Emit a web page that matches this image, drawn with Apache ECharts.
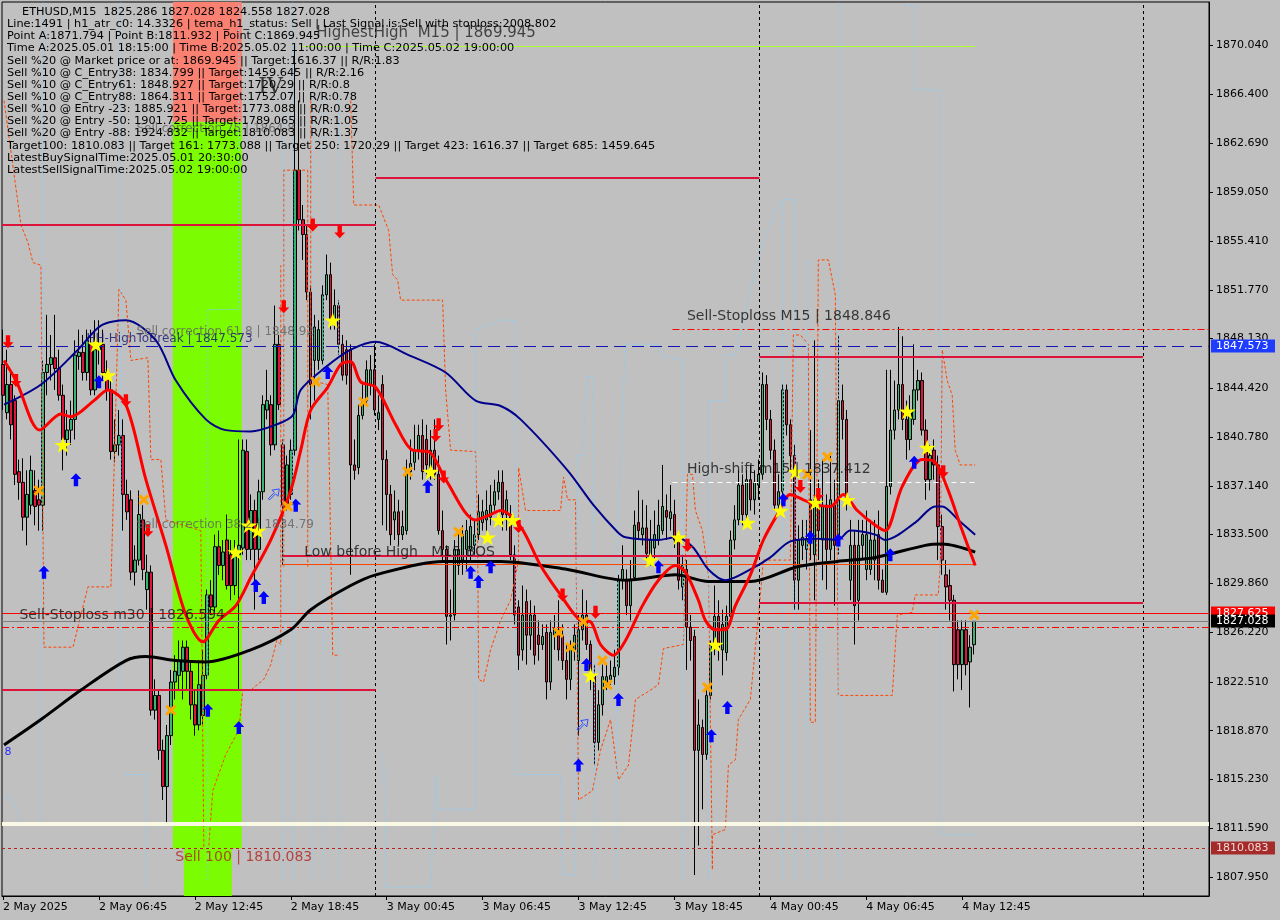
<!DOCTYPE html>
<html>
<head>
<meta charset="utf-8">
<script src="https://cdn.jsdelivr.net/npm/echarts@6.0.0/dist/echarts.min.js"></script>
<style>
html,body{margin:0;padding:0;background:#C0C0C0;overflow:hidden}
#chart{width:1280px;height:920px}
</style>
</head>
<body>
<div id="chart"></div>
<script>
// ---------- DATA ----------
// candles: [open, close, low, high], index = M15 bar number starting 2 May 00:45
const candles = [
[1846.2,1843.9,1842.8,1848.8],[1842.6,1844.7,1842.1,1847.3],[1844.7,1841.7,1840.6,1845.8],[1843.5,1838.0,1837.2,1843.9],
[1838.2,1837.4,1836.1,1839.1],[1837.4,1834.8,1833.8,1839.2],[1834.8,1836.5,1832.7,1838.3],[1835.7,1838.3,1835.0,1839.4],
[1836.8,1835.6,1834.2,1838.3],[1836.1,1835.7,1833.8,1837.6],[1835.7,1845.6,1833.8,1846.5],[1845.6,1846.2,1843.9,1849.9],
[1846.2,1846.7,1845.0,1848.4],[1846.7,1845.9,1844.3,1849.9],[1845.9,1843.9,1843.5,1847.3],[1843.9,1840.6,1838.3,1844.7],
[1840.6,1841.3,1839.4,1842.8],[1841.3,1842.1,1840.2,1843.5],[1842.1,1846.9,1840.6,1848.0],[1846.8,1847.1,1845.8,1848.8],
[1847.1,1845.6,1845.0,1848.4],[1845.6,1848.0,1845.0,1848.8],[1847.7,1844.3,1843.9,1848.8],[1844.3,1847.3,1843.9,1849.5],
[1847.3,1847.7,1846.2,1849.5],[1847.7,1845.6,1845.0,1848.8],[1845.6,1844.3,1843.5,1846.5],[1844.3,1839.7,1839.1,1845.0],
[1839.7,1840.2,1838.9,1842.1],[1840.2,1840.9,1839.4,1842.8],[1840.9,1836.5,1833.8,1842.1],[1836.5,1835.2,1834.6,1837.6],
[1836.1,1830.7,1830.1,1836.8],[1830.7,1831.6,1829.7,1832.7],[1831.6,1835.0,1831.2,1836.8],[1834.6,1830.9,1830.1,1835.7],
[1829.4,1830.7,1827.9,1832.0],[1830.7,1820.4,1820.0,1831.2],[1820.4,1821.5,1819.7,1822.7],[1821.5,1817.4,1816.7,1821.9],
[1817.4,1814.7,1813.7,1818.2],[1814.7,1818.5,1811.932,1819.3],[1818.5,1822.5,1817.8,1823.4],[1822.5,1823.3,1821.2,1824.5],
[1823.0,1824.1,1821.9,1825.6],[1823.3,1825.1,1821.2,1825.6],[1825.1,1823.3,1821.9,1825.6],[1823.3,1820.8,1819.7,1824.1],
[1820.8,1819.3,1818.5,1821.9],[1819.3,1822.3,1818.9,1824.1],[1820.0,1823.0,1819.3,1824.9],[1823.0,1829.0,1822.7,1829.4],
[1829.0,1828.1,1827.5,1830.1],[1828.1,1832.6,1827.7,1833.5],[1832.6,1831.2,1830.5,1833.8],[1831.2,1832.2,1830.1,1833.1],
[1833.1,1829.7,1829.4,1835.0],[1832.0,1829.7,1828.6,1833.1],[1829.7,1832.2,1829.0,1833.1],[1832.0,1832.7,1821.9,1840.6],
[1832.5,1839.8,1832.0,1840.6],[1839.7,1832.4,1831.6,1840.6],[1832.4,1835.3,1831.6,1836.5],[1835.3,1832.4,1827.9,1836.1],
[1832.4,1836.7,1831.6,1837.6],[1836.7,1843.2,1836.1,1843.9],[1842.8,1843.5,1842.1,1845.8],[1843.2,1840.2,1839.4,1843.9],
[1840.2,1847.7,1839.8,1850.6],[1847.7,1843.2,1842.8,1848.4],[1840.2,1835.7,1831.2,1840.6],[1835.7,1838.7,1835.3,1839.4],
[1836.5,1839.8,1836.1,1840.6],[1839.8,1860.7,1839.4,1869.945],[1860.7,1857.0,1856.2,1865.9],[1857.0,1855.9,1854.0,1858.1],
[1855.9,1851.6,1851.0,1856.6],[1851.6,1844.7,1842.1,1852.1],[1846.5,1849.0,1843.5,1849.9],[1846.5,1848.8,1845.8,1849.5],
[1846.5,1851.4,1846.2,1852.1],[1851.4,1852.9,1851.0,1854.4],[1852.9,1849.5,1848.8,1853.8],[1849.5,1850.6,1848.8,1851.8],
[1850.6,1847.7,1846.9,1851.0],[1847.7,1845.4,1845.0,1848.4],[1847.3,1845.4,1844.7,1848.0],[1847.3,1838.7,1830.5,1847.7],
[1838.7,1838.3,1837.6,1840.6],[1838.5,1842.4,1838.0,1843.2],[1842.4,1843.5,1842.1,1844.7],[1843.5,1845.8,1843.2,1846.5],
[1844.7,1845.8,1843.9,1846.9],[1845.8,1842.8,1842.4,1847.7],[1842.1,1842.6,1841.3,1843.9],[1844.7,1839.1,1834.2,1845.4],
[1839.1,1836.5,1833.8,1839.8],[1836.5,1833.5,1832.7,1837.2],[1834.6,1835.2,1833.1,1836.8],[1835.2,1833.5,1832.7,1836.1],
[1833.5,1834.1,1833.1,1835.3],[1833.8,1838.3,1833.5,1839.1],[1838.2,1838.8,1837.6,1840.6],[1838.9,1839.8,1838.3,1841.7],
[1839.8,1840.9,1839.1,1841.7],[1840.9,1838.2,1837.6,1842.1],[1840.6,1838.7,1838.0,1841.7],[1838.3,1839.8,1837.6,1841.3],
[1839.8,1838.0,1837.6,1842.1],[1838.0,1833.8,1833.5,1839.4],[1833.8,1832.4,1831.6,1835.3],[1832.4,1827.4,1825.3,1832.7],
[1827.4,1827.5,1825.6,1829.4],[1827.5,1832.4,1827.1,1833.1],[1831.2,1832.4,1830.5,1833.8],[1831.6,1833.5,1830.5,1834.2],
[1832.4,1833.8,1830.9,1834.6],[1832.4,1834.1,1831.6,1835.0],[1832.7,1833.5,1832.0,1834.6],[1833.5,1835.2,1833.1,1836.5],
[1834.4,1835.2,1833.8,1836.1],[1834.6,1835.3,1833.8,1836.8],[1834.8,1835.7,1834.2,1837.2],[1835.7,1836.7,1835.3,1837.6],
[1836.7,1837.4,1836.1,1838.3],[1837.4,1835.0,1833.8,1838.3],[1835.0,1836.1,1833.8,1836.8],[1835.0,1832.0,1831.6,1835.7],
[1832.0,1827.5,1826.8,1832.7],[1828.1,1824.5,1823.4,1828.6],[1824.9,1827.5,1824.1,1829.7],[1828.5,1826.0,1823.8,1829.4],
[1826.0,1827.5,1824.9,1828.6],[1827.5,1824.5,1823.8,1828.2],[1826.0,1825.3,1824.1,1827.1],[1825.3,1825.9,1824.9,1826.8],
[1826.2,1822.5,1821.2,1826.8],[1822.5,1826.2,1821.9,1827.1],[1826.0,1826.5,1824.9,1827.5],[1826.4,1824.9,1824.1,1828.6],
[1826.0,1824.1,1823.4,1826.8],[1824.1,1822.7,1821.2,1825.3],[1822.7,1825.1,1821.9,1825.6],[1824.9,1826.0,1824.1,1826.8],
[1824.1,1826.4,1818.5,1827.5],[1826.4,1827.5,1825.6,1829.4],[1827.5,1825.3,1824.9,1828.6],[1825.3,1823.0,1821.9,1825.6],
[1823.0,1818.0,1816.3,1823.8],[1818.0,1820.8,1817.4,1821.9],[1820.8,1822.9,1820.0,1823.8],[1822.3,1822.9,1821.9,1823.8],
[1822.7,1823.0,1822.3,1824.1],[1822.9,1823.6,1822.3,1824.9],[1823.6,1830.1,1823.0,1830.5],[1830.1,1830.9,1829.4,1832.7],
[1830.1,1828.2,1827.5,1830.9],[1828.2,1830.1,1827.1,1831.6],[1830.3,1834.2,1830.1,1835.3],[1834.4,1833.8,1833.1,1836.8],
[1833.5,1834.0,1832.7,1836.1],[1834.0,1832.1,1831.6,1835.7],[1832.0,1833.1,1831.2,1834.6],[1832.5,1833.5,1831.6,1835.3],
[1833.1,1834.2,1832.7,1836.1],[1833.8,1835.6,1833.5,1838.7],[1835.3,1834.8,1833.1,1836.5],[1834.7,1835.2,1833.8,1837.2],
[1835.0,1833.1,1832.5,1836.1],[1833.1,1830.1,1829.4,1833.8],[1829.6,1831.2,1828.6,1832.0],[1830.9,1826.6,1823.4,1831.6],
[1826.6,1825.6,1824.1,1827.5],[1825.9,1817.4,1808.1,1826.4],[1817.4,1819.3,1810.3,1821.2],[1819.1,1817.1,1813.0,1819.7],
[1817.1,1821.5,1816.7,1821.9],[1821.5,1825.3,1821.2,1825.6],[1825.3,1827.4,1824.5,1829.7],[1827.4,1825.1,1824.1,1828.6],
[1824.9,1826.8,1823.0,1827.9],[1824.7,1827.4,1824.1,1828.2],[1827.4,1833.1,1826.8,1833.8],[1833.1,1834.6,1832.4,1835.7],
[1834.6,1837.2,1834.2,1838.3],[1837.2,1835.0,1834.2,1838.0],[1835.0,1837.6,1834.6,1838.3],[1837.6,1836.1,1835.3,1838.7],
[1836.1,1837.4,1835.0,1838.3],[1837.2,1838.0,1836.1,1839.1],[1838.0,1844.7,1837.6,1845.6],[1844.7,1842.1,1841.3,1845.4],
[1842.1,1839.8,1839.1,1842.8],[1839.8,1835.7,1835.3,1840.6],[1835.7,1836.7,1835.0,1838.0],[1836.7,1844.3,1836.1,1844.7],
[1844.3,1841.7,1840.9,1844.7],[1841.7,1839.4,1838.3,1842.1],[1839.4,1830.1,1827.9,1840.2],[1830.1,1833.1,1827.9,1834.2],
[1832.7,1833.3,1831.6,1834.6],[1832.4,1833.1,1830.9,1834.6],[1836.1,1833.1,1831.6,1841.3],[1832.0,1836.1,1828.6,1848.0],
[1836.1,1833.8,1831.6,1837.6],[1833.1,1835.7,1830.1,1839.1],[1835.7,1832.4,1829.4,1836.5],[1832.4,1836.1,1831.6,1839.4],
[1835.7,1832.7,1828.2,1837.6],[1832.7,1843.5,1832.0,1848.4],[1843.5,1842.1,1840.6,1844.7],[1842.1,1836.1,1835.3,1842.8],
[1830.1,1832.7,1828.6,1834.6],[1832.7,1828.2,1825.3,1833.8],[1828.6,1832.7,1827.1,1834.6],[1832.7,1833.5,1831.6,1834.6],
[1830.9,1833.5,1830.1,1835.3],[1830.9,1833.1,1830.5,1834.6],[1831.6,1833.1,1830.1,1834.6],[1833.5,1830.1,1829.4,1835.3],
[1830.1,1829.2,1829.2,1830.9],[1829.2,1837.1,1829.0,1845.8],[1837.1,1841.3,1836.5,1845.8],[1841.3,1842.8,1840.6,1845.0],
[1842.8,1844.7,1842.1,1849.0],[1844.7,1842.1,1841.3,1848.3],[1842.1,1840.6,1839.1,1843.5],[1840.6,1842.8,1839.8,1843.9],
[1842.1,1844.3,1841.7,1847.7],[1844.3,1845.0,1843.5,1845.8],[1845.0,1841.3,1840.9,1845.6],[1841.3,1837.6,1836.1,1842.1],
[1837.6,1839.4,1836.8,1840.2],[1839.8,1838.7,1837.6,1840.6],[1838.7,1834.1,1831.6,1839.4],[1834.1,1831.6,1830.5,1835.0],
[1830.5,1829.6,1827.9,1831.6],[1829.7,1828.6,1827.1,1830.9],[1828.6,1823.8,1821.8,1829.0],[1826.4,1823.8,1822.7,1827.1],
[1823.8,1826.4,1821.9,1827.1],[1826.4,1823.8,1823.0,1827.1],[1824.0,1825.1,1820.6,1826.0],[1825.286,1827.028,1824.558,1827.028]
];

const xTickBars = [0,24,48,72,96,120,144,168,192,216,240];
const xTickLabels = ['2 May 2025','2 May 06:45','2 May 12:45','2 May 18:45','3 May 00:45','3 May 06:45','3 May 12:45','3 May 18:45','4 May 00:45','4 May 06:45','4 May 12:45'];
const yTickValues = [1870.040,1866.400,1862.690,1859.050,1855.410,1851.770,1848.130,1844.420,1840.780,1837.140,1833.500,1829.860,1826.220,1822.510,1818.870,1815.230,1811.590,1807.950];

// moving averages [bar, price]
const redMA = [[0.25,1846.5],[3.25,1845.0],[9.25,1841.3],[14.5,1842.5],[17,1842.3],[22.75,1843.5],[26.25,1844.3],[30.75,1843.2],[35.75,1837.6],[40.75,1832.7],[45.75,1827.5],[50,1825.5],[54,1827.1],[58.25,1828.2],[62,1830.3],[67,1833.1],[72,1836.8],[74.5,1839.8],[77,1842.8],[81.25,1844.5],[84.5,1846.2],[87,1846.4],[89.5,1844.9],[93.25,1844.5],[98.25,1841.7],[102.5,1839.8],[106.5,1839.7],[110.75,1837.6],[118.25,1834.6],[122,1835.0],[124.5,1835.3],[129.5,1834.1],[134.5,1831.2],[139.5,1829.0],[144.5,1827.1],[147,1827.0],[149.5,1825.3],[152.75,1824.5],[155.75,1825.6],[160,1828.2],[164,1830.1],[168.25,1831.2],[170.75,1830.7],[174,1828.6],[175.75,1827.1],[178.25,1826.4],[180.75,1826.4],[183.25,1828.2],[187,1830.5],[190.25,1833.1],[193.75,1835.0],[197,1836.5],[200.25,1836.1],[203.75,1835.7],[207,1835.6],[210.25,1836.5],[213.75,1835.3],[218.25,1834.2],[220.75,1833.8],[225,1837.1],[230,1839.1],[233.25,1838.9],[236.5,1836.8],[240,1833.8],[243.25,1831.2]];
const navyMA = [[0.25,1843.2],[9.5,1844.7],[18.75,1847.3],[24.5,1849.1],[30.75,1849.5],[38.25,1848.0],[43.25,1845.0],[50.75,1842.1],[55.75,1841.3],[62,1841.2],[68.25,1841.7],[72.5,1842.4],[74.5,1844.3],[80.75,1846.0],[87,1847.3],[93.25,1847.9],[101.5,1846.9],[110.75,1845.6],[118.25,1843.5],[124.5,1843.1],[129.5,1842.1],[141.25,1838.3],[147.75,1835.7],[153.75,1833.7],[155.75,1833.3],[164,1833.1],[168.25,1833.3],[172.5,1832.6],[176.5,1830.9],[180.75,1830.1],[187,1830.9],[192,1831.8],[197,1833.0],[203.75,1833.2],[208.75,1833.1],[212,1833.8],[218.25,1833.5],[220.75,1833.1],[228.25,1834.4],[233.25,1835.6],[235,1835.6],[239,1834.6],[243.25,1833.5]];
const blackMA = [[0.25,1817.8],[9.5,1819.7],[19.5,1821.9],[30.75,1824.1],[35.75,1824.4],[43.25,1824.1],[50.75,1824.0],[62,1824.9],[72,1826.4],[77,1827.9],[87,1829.7],[93.25,1830.5],[110,1831.5],[124.5,1831.5],[141.25,1830.9],[155.75,1830.1],[168.25,1830.5],[176.5,1830.0],[187,1830.0],[198.75,1831.1],[208.75,1831.5],[218.25,1831.8],[230.75,1832.7],[235,1832.8],[243.25,1832.2]];

// step channels (dotted) [bar, price]
const orangePaths = [
[[0.25,1865.9],[4.5,1856.6],[6.25,1855.3],[7.5,1853.8],[9.5,1853.6],[10.25,1825.1],[17.5,1825.1],[21.25,1829.6],[27,1829.6],[29,1851.8],[30.75,1851.0],[32,1846.5],[36.25,1846.7],[37,1839.1],[39.5,1839.1],[40.75,1834.6],[49.5,1833.8],[50.25,1810.0]],
[[51.5,1810.3],[52.5,1814.4],[55.75,1817.1],[59,1818.9],[60,1821.9],[62,1821.9],[65.25,1822.7],[67,1823.8],[68.5,1825.6],[69.5,1825.3],[69.5,1853.6]],
[[70.25,1831.1],[70.25,1860.7],[76.25,1860.7],[76.25,1831.1]],
[[77,1865.9],[77,1845.0],[81.25,1844.7],[82.5,1824.5],[83.75,1824.5]],
[[87,1865.9],[87.75,1858.1],[94,1858.1],[96.5,1856.2],[97.5,1852.9],[98.75,1852.5],[99.5,1851.0],[110,1851.0],[110.75,1844.3],[112,1839.8],[118.25,1839.7],[118.75,1833.8],[119,1822.7],[120.25,1822.5],[122,1824.9],[124.5,1827.1],[127,1828.6],[129,1831.6],[129,1838.5],[130.75,1835.3],[139.5,1835.3],[140.25,1837.8],[141.25,1836.1],[143.25,1836.1],[144,1813.7],[147.5,1814.4],[149.5,1817.4],[152,1819.7],[154,1815.2],[156.5,1816.3],[158.25,1821.2],[161.5,1821.8],[164,1822.3],[165.25,1825.0],[170.25,1825.3],[171.25,1838.0],[172.5,1838.0],[173.25,1835.3],[175,1833.8],[176.5,1830.5],[177.5,1808.5],[177.5,1811.1],[180.75,1811.5],[181.5,1816.3],[183.25,1816.7],[184,1819.7],[187,1821.2],[189.5,1829.0],[190.25,1831.6],[197,1831.6],[197.75,1848.4],[199.5,1848.4],[201.5,1847.7],[202,1819.5],[203.25,1819.5],[204,1854.0],[206.5,1854.0],[208.25,1851.4],[209,1821.5],[222.5,1821.5],[223.75,1827.5],[227.5,1827.7],[228.25,1829.0],[234,1829.0],[234.5,1831.2],[235,1847.3],[236.25,1845.0],[237.5,1843.9],[238.25,1839.8],[239.5,1838.7],[243.25,1838.7]]
];
const bluePaths = [
[[0.25,1813.7],[1.5,1814.1],[2.75,1813.3],[4.5,1812.0],[9.5,1812.0],[10,1873.2]],
[[29.5,1873.2],[29.5,1821.9]],
[[30.75,1815.6],[35.75,1815.6],[35.75,1807.4]],
[[51.25,1807.7],[51.25,1850.3],[59,1850.3],[59,1873.2]],
[[70,1865.9],[70,1807.7]],
[[72.5,1873.2],[72.5,1807.7]],
[[77.5,1865.9],[77.5,1807.7]],
[[80.25,1865.9],[80.25,1807.7]],
[[84,1865.9],[84,1807.7]],
[[95.25,1817.1],[95.75,1807.2],[107,1807.2],[108.25,1815.6],[109,1813.0],[118.25,1813.0],[118.25,1848.8],[124.5,1849.5],[128.25,1849.5],[128.25,1815.6],[139.5,1815.6],[140,1808.1],[143.25,1808.1],[143.75,1839.4],[145,1839.4],[146.25,1845.3],[147.5,1845.3],[148.25,1807.7]],
[[153.75,1807.7],[153.75,1833.5],[155.75,1847.7],[164,1847.7],[164.5,1846.9],[170.25,1846.5],[170.25,1807.7]],
[[176.5,1807.7],[176.5,1843.5],[180.75,1843.5],[180.75,1846.9],[183.25,1846.9],[187,1851.8],[189.5,1854.7],[193.25,1857.7],[195.25,1858.5],[198.25,1858.5],[198.25,1807.7]],
[[195.25,1807.7],[195.25,1858.5]],
[[201.25,1807.7],[201.25,1854.0]],
[[204.5,1807.7],[204.5,1848.0]],
[[209,1807.7],[209,1873.2]],
[[225.75,1873.0],[228.25,1873.0],[228.25,1866.7],[234.5,1866.7],[234.5,1811.1],[243.25,1811.1]]
];

// signal markers [bar, price]
const sellArrows = [[1.25,1847.9],[3.25,1845.0],[30.75,1843.5],[36.25,1833.8],[70.25,1850.5],[77.5,1856.6],[84.25,1856.1],[109,1841.7],[108.25,1840.9],[110.25,1837.8],[129,1834.1],[140,1829.0],[148.25,1827.7],[171.25,1832.7],[199.5,1837.1],[204,1836.5],[235.25,1838.2]];
const buyArrows = [[10.25,1830.7],[18.25,1837.6],[24,1844.9],[51.25,1820.4],[59,1819.1],[63.25,1829.7],[65.25,1828.8],[73.25,1835.7],[81.25,1845.6],[106.25,1837.1],[117,1830.7],[119,1830.0],[122,1831.1],[144,1816.3],[146,1823.8],[154,1821.2],[164,1831.1],[177.25,1818.5],[181.25,1820.6],[195.25,1836.1],[202,1833.3],[209,1833.1],[222,1832.0],[228,1838.9]];
const stars = [[23.25,1847.7],[26.25,1845.4],[15,1840.2],[58.25,1832.2],[61.5,1834.2],[63.75,1833.8],[82.5,1849.5],[107,1838.2],[121.25,1833.3],[124,1834.6],[127.5,1834.6],[147,1823.0],[162,1831.6],[169,1833.3],[178.25,1825.3],[186.25,1834.4],[194.5,1835.3],[198.25,1838.2],[203.25,1835.9],[211.25,1836.1],[226.25,1842.7],[231.25,1840.0]];
const crosses = [[9,1836.8],[35.25,1836.1],[42,1820.4],[71.25,1835.6],[78.25,1844.9],[90.25,1843.4],[101.25,1838.2],[114,1833.7],[139,1826.2],[142,1825.1],[145.25,1827.0],[150,1824.1],[151.25,1822.3],[176.25,1822.1],[201.25,1838.0],[206.25,1839.3],[243,1827.5]];
const hollowArrows = [[67.75,1836.5],[145,1819.3]];

// price levels
const redSegments = [[-0.25,93.25,1856.607],[93.25,189.25,1860.115],[189.25,285.25,1846.756],[189.25,285.25,1828.398],[-0.25,93.25,1821.906],[70,189.25,1831.906]];
const bosSegment = [70,243.25,1831.31];
const highestHighSegment = [74.5,243.25,1869.945];
const sellStopM15Segment = [167.5,301.75,1848.846];
const highShiftSegment = [167.5,243.25,1837.412];
const priceHHBreak = 1847.573;
const priceAsk = 1827.625;
const priceLast = 1827.028;
const priceSellStopM30 = 1826.594;
const pricePointB = 1811.932;
const priceTarget100 = 1810.083;
const priceCEntry88 = 1864.311;
const daySeparators = [93.25,189.25,285.25];
const signalBand = [42.5,59.75];
const signalBandNarrow = [45.25,57.25];

// on-chart texts
const annotText = ['HighestHigh  M15 | 1869.945','Sell-Stoploss M15 | 1848.846','High-shift m15 | 1837.412','Low before High   M15 BOS','Sell-Stoploss m30 | 1826.594','Sell 100 | 1810.083','HH-HighToBreak | 1847.573','Sell correction 61.8 | 1848.92','Sell correction 38.2 | 1834.79','Sell correction 75 | 1864.8','IV','8'];
const annotPos = [[78.25,1870.9],[171,1849.8],[171,1838.4],[75.25,1832.2],[4,1827.5],[43,1809.4],[20.75,1848.1],[33.25,1848.6],[33.25,1834.2],[33.25,1863.8],[63.75,1866.9],[0.25,1817.3]];

const infoLines = [
'ETHUSD,M15  1825.286 1827.028 1824.558 1827.028',
'Line:1491 | h1_atr_c0: 14.3326 | tema_h1_status: Sell | Last Signal is:Sell with stoploss:2008.802',
'Point A:1871.794 | Point B:1811.932 | Point C:1869.945',
'Time A:2025.05.01 18:15:00 | Time B:2025.05.02 11:00:00 | Time C:2025.05.02 19:00:00',
'Sell %20 @ Market price or at: 1869.945 || Target:1616.37 || R/R:1.83',
'Sell %10 @ C_Entry38: 1834.799 || Target:1459.645 || R/R:2.16',
'Sell %10 @ C_Entry61: 1848.927 || Target:1720.29 || R/R:0.8',
'Sell %10 @ C_Entry88: 1864.311 || Target:1752.07 || R/R:0.78',
'Sell %10 @ Entry -23: 1885.921 || Target:1773.088 || R/R:0.92',
'Sell %20 @ Entry -50: 1901.725 || Target:1789.065 || R/R:1.05',
'Sell %20 @ Entry -88: 1924.832 || Target:1810.083 || R/R:1.37',
'Target100: 1810.083 || Target 161: 1773.088 || Target 250: 1720.29 || Target 423: 1616.37 || Target 685: 1459.645',
'LatestBuySignalTime:2025.05.01 20:30:00',
'LatestSellSignalTime:2025.05.02 19:00:00'
];

// ---------- CHART ----------
const FONT = 'DejaVu Sans';
const X0 = -0.25, X1 = 301.75, Y0 = 1806.532, Y1 = 1873.249;
const chart = echarts.init(document.getElementById('chart'), null, {width:1280, height:920});

const annotStyles = [
  {fontSize:15,color:'#222'},{fontSize:14,color:'#111'},{fontSize:14,color:'#111'},{fontSize:14,color:'#111'},
  {fontSize:14,color:'#111'},{fontSize:14,color:'#B22222'},{fontSize:12,color:'#101070'},{fontSize:12,color:'#606060'},
  {fontSize:12,color:'#606060'},{fontSize:12,color:'#606060'},{fontSize:22,color:'#111',fontFamily:'DejaVu Serif'},{fontSize:11,color:'#0000FF'}
];

const seg = (s, style) => [{coord:[s[0], s[2]], lineStyle:style}, {coord:[s[1], s[2]]}];
const crimson = {color:'#DC143C', width:2, type:'solid'};

const series = [];
// bands
series.push({
  type:'line', data:[], z:1, silent:true,
  markArea:{silent:true, data:[
    [{coord:[signalBand[0], priceTarget100], itemStyle:{color:'#7CFC00', opacity:1}}, {coord:[signalBand[1], priceCEntry88]}],
    [{coord:[signalBand[0], priceCEntry88], itemStyle:{color:'#FA8072', opacity:1}}, {coord:[signalBand[1], Y1]}],
    [{coord:[signalBandNarrow[0], Y0], itemStyle:{color:'#7CFC00', opacity:1}}, {coord:[signalBandNarrow[1], priceTarget100]}]
  ]}
});
// candles
series.push({
  type:'candlestick', z:2, barWidth:3, silent:true,
  data: candles.map((c,i)=>[i, c[0], c[1], c[2], c[3]]),
  itemStyle:{color:'#3CB371', color0:'#DC143C', borderColor:'#000', borderColor0:'#000', borderWidth:1}
});
// channels
orangePaths.forEach(p => series.push({type:'line', data:p, z:3, symbol:'none', silent:true,
  lineStyle:{color:'#FF4500', width:1, type:[3,2]}}));
bluePaths.forEach(p => series.push({type:'line', data:p, z:3, symbol:'none', silent:true,
  lineStyle:{color:'#87CEFA', width:1, type:[2,2]}}));
// levels
series.push({
  type:'line', data:[], z:4, silent:true,
  markLine:{symbol:['none','none'], silent:true, label:{show:false}, animation:false, data:[
    ...daySeparators.map(v => ({xAxis:v, lineStyle:{color:'#000', width:1, type:[3,3]}})),
    ...redSegments.map(s => seg(s, crimson)),
    seg(bosSegment, {color:'#FF4500', width:1, type:'solid'}),
    seg(highestHighSegment, {color:'#ADFF2F', width:1, type:'solid'}),
    seg(sellStopM15Segment, {color:'#FF0000', width:1, type:[7,3,2,3]}),
    seg(highShiftSegment, {color:'#FFFFFF', width:1, type:[5,4]}),
    {yAxis:priceHHBreak, lineStyle:{color:'#1414B4', width:1, type:[12,6]}},
    {yAxis:priceAsk, lineStyle:{color:'#FF0000', width:1, type:'solid'}},
    {yAxis:priceLast, lineStyle:{color:'#808080', width:1, type:'solid'}},
    {yAxis:priceSellStopM30, lineStyle:{color:'#FF0000', width:1, type:[7,3,2,3]}},
    {yAxis:pricePointB, lineStyle:{color:'#F8F8E4', width:4, type:'solid'}},
    {yAxis:priceTarget100, lineStyle:{color:'#B22222', width:1, type:[3,3]}}
  ]}
});
// moving averages
series.push({type:'line', data:blackMA, z:5, symbol:'none', smooth:0.3, silent:true, lineStyle:{color:'#000', width:3}});
series.push({type:'line', data:navyMA, z:5, symbol:'none', smooth:0.3, silent:true, lineStyle:{color:'#00008B', width:2}});
series.push({type:'line', data:redMA, z:5, symbol:'none', smooth:0.3, silent:true, lineStyle:{color:'#FF0000', width:3}});
// markers
const upPath = 'path://M5,0 L10,5 L7,5 L7,11 L3,11 L3,5 L0,5 Z';
const downPath = 'path://M3,0 L7,0 L7,6 L10,6 L5,11 L0,6 L3,6 Z';
const starPath = 'path://M50,0 L61,35 L98,35 L68,57 L79,91 L50,70 L21,91 L32,57 L2,35 L39,35 Z';
const crossPath = 'path://M0,2 L2,0 L5,3 L8,0 L10,2 L7,5 L10,8 L8,10 L5,7 L2,10 L0,8 L3,5 Z';
const hollowPath = 'path://M0,8 L5,3 L3,1 L9,0 L8,6 L6,4 L1,9 Z';
series.push({type:'scatter', data:sellArrows, z:6, silent:true, symbol:downPath, symbolSize:[11,13], itemStyle:{color:'#FF0000', opacity:1}});
series.push({type:'scatter', data:buyArrows, z:6, silent:true, symbol:upPath, symbolSize:[11,13], itemStyle:{color:'#0000FF', opacity:1}});
series.push({type:'scatter', data:stars, z:6, silent:true, symbol:starPath, symbolSize:[17,16], itemStyle:{color:'#FFFF00', opacity:1}});
series.push({type:'scatter', data:crosses, z:6, silent:true, symbol:crossPath, symbolSize:11, itemStyle:{color:'#FFA500', opacity:1}});
series.push({type:'scatter', data:hollowArrows, z:6, silent:true, symbol:hollowPath, symbolSize:11, itemStyle:{color:'rgba(0,0,0,0)', borderColor:'#3050FF', borderWidth:1, opacity:1}});
// annotations
series.push({
  type:'scatter', z:7, silent:true, symbolSize:1, itemStyle:{color:'rgba(0,0,0,0)'},
  data: annotPos.map((p,k)=>({name:annotText[k], value:p,
    label:Object.assign({show:true, position:'right', distance:0, formatter:'{b}', fontFamily:FONT, verticalAlign:'middle'}, annotStyles[k])}))
});

chart.setOption({
  animation:false,
  backgroundColor:'#C0C0C0',
  textStyle:{fontFamily:FONT},
  grid:{left:1, top:2, right:71, bottom:24, show:true, borderColor:'#000', borderWidth:1, backgroundColor:'transparent'},
  xAxis:{type:'value', min:X0, max:X1, position:'bottom',
    axisLine:{onZero:false, lineStyle:{color:'#000'}},
    splitLine:{show:false},
    axisTick:{show:true, customValues:xTickBars, length:4, lineStyle:{color:'#000'}},
    axisLabel:{customValues:xTickBars, align:'left', margin:6, color:'#000', fontSize:11, fontFamily:FONT,
      formatter:(v)=>{const k = xTickBars.indexOf(Math.round(v)); return k>=0 ? xTickLabels[k] : '';}}
  },
  yAxis:{type:'value', min:Y0, max:Y1, position:'right', scale:true,
    axisLine:{show:true, onZero:false, lineStyle:{color:'#000'}},
    splitLine:{show:false},
    axisTick:{show:true, customValues:yTickValues, length:4, lineStyle:{color:'#000'}},
    axisLabel:{customValues:yTickValues, margin:7, color:'#000', fontSize:11, fontFamily:FONT,
      formatter:(v)=>v.toFixed(3)}
  },
  series
});

// overlays: info text block and right-axis price boxes
const g = [];
infoLines.forEach((t,k)=>{
  g.push({type:'text', x:(k===0?22:7), y:12+12.15*k, z:100, silent:true,
    style:{text:t, fill:'#000', font:'11.3px "DejaVu Sans"', verticalAlign:'middle', textVerticalAlign:'middle'}});
});
const boxes = [[priceHHBreak,'#1E3CFF','#FFFFFF'],[priceAsk,'#FF0000','#FFFFFF'],[priceLast,'#000000','#FFFFFF'],[priceTarget100,'#A52A2A','#F2D8D8']];
boxes.forEach(b=>{
  const y = chart.convertToPixel({yAxisIndex:0}, b[0]);
  g.push({type:'rect', z:100, silent:true, shape:{x:1211, y:Math.round(y)-6.5, width:64, height:13}, style:{fill:b[1]}});
  g.push({type:'text', z:101, silent:true, x:1216, y:Math.round(y),
    style:{text:b[0].toFixed(3), fill:b[2], font:'11px "DejaVu Sans"', verticalAlign:'middle', textVerticalAlign:'middle'}});
});
chart.setOption({graphic:g});
</script>
</body>
</html>
